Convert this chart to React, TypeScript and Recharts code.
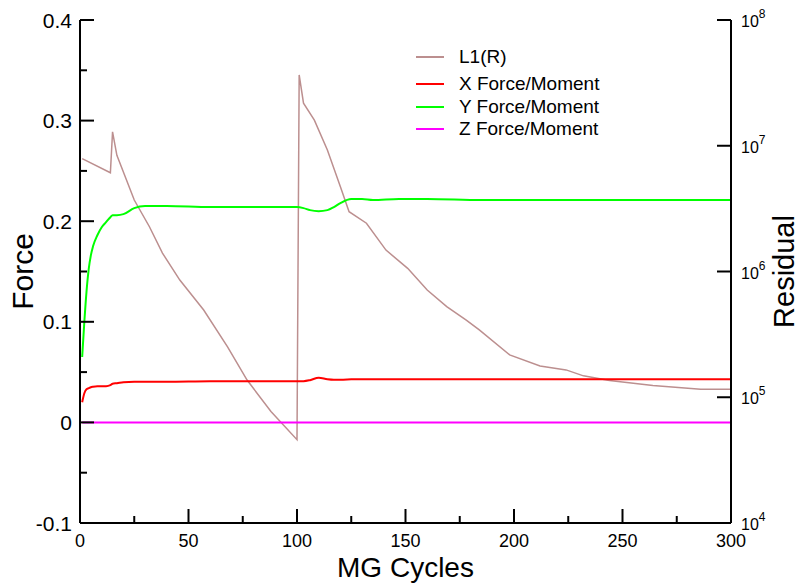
import { LineChart, Line, XAxis, YAxis, Legend } from 'recharts';

const FONT = '"Liberation Sans", Arial, sans-serif';

// L1(R) residual, right (log) axis
const residualCycles = [1, 14, 15, 17, 25, 32, 38, 46, 57, 68, 77, 88, 100, 101, 103, 108, 114, 120, 124, 132, 141, 151, 160, 169, 178, 184, 198, 212, 224, 232, 244, 264, 286, 300];
const residualValues = [7.9e6, 6.1e6, 1.29e7, 8.4e6, 3.7e6, 2.27e6, 1.4e6, 8.55e5, 4.94e5, 2.52e5, 1.37e5, 7.7e4, 4.6e4, 3.66e7, 2.18e7, 1.6e7, 9.25e6, 4.72e6, 2.99e6, 2.42e6, 1.48e6, 1.06e6, 7.13e5, 5.25e5, 4.11e5, 3.43e5, 2.17e5, 1.77e5, 1.65e5, 1.48e5, 1.36e5, 1.24e5, 1.16e5, 1.16e5];

// force / moment components, left axis
const forceCycles = [1, 2, 3, 4, 5, 6, 8, 10, 12, 14, 15, 17, 20, 25, 30, 40, 60, 80, 100, 103, 106, 110, 114, 117, 120, 125, 130, 135, 147, 160, 185, 220, 260, 300];
const xForce = [0.02, 0.029, 0.033, 0.034, 0.035, 0.0355, 0.036, 0.036, 0.036, 0.037, 0.0385, 0.039, 0.04, 0.0405, 0.0405, 0.0405, 0.041, 0.041, 0.041, 0.041, 0.042, 0.0445, 0.043, 0.0425, 0.0425, 0.0428, 0.043, 0.043, 0.043, 0.043, 0.043, 0.043, 0.043, 0.0428];
const yForce = [0.065, 0.1, 0.13, 0.152, 0.166, 0.175, 0.186, 0.194, 0.199, 0.204, 0.206, 0.206, 0.207, 0.213, 0.215, 0.215, 0.214, 0.214, 0.214, 0.213, 0.211, 0.21, 0.211, 0.214, 0.218, 0.222, 0.222, 0.221, 0.222, 0.222, 0.221, 0.221, 0.221, 0.221];
const zCycles = [1, 100, 200, 300];
const zForce = [0, 0, 0, 0];

const cycleTicks = [0, 25, 50, 75, 100, 125, 150, 175, 200, 225, 250, 275, 300];
const forceTicks = [-0.1, -0.05, 0, 0.05, 0.1, 0.15, 0.2, 0.25, 0.3, 0.35, 0.4];
const residualTicks = [1e4, 1e5, 1e6, 1e7, 1e8];

const toPoints = (cycles: number[], values: number[]) =>
  cycles.map((cycle, i) => ({ cycle, value: values[i] }));

const isMajorForce = (v: number) => Math.abs(v * 10 - Math.round(v * 10)) < 1e-6;
const formatForce = (v: number) => (v === 0 ? '0' : v.toFixed(1));

const LeftTick = (props: any) => {
  const { x, y, payload } = props;
  const major = isMajorForce(payload.value);
  return (
    <g>
      <line x1={x} y1={y} x2={x + (major ? 14 : 7)} y2={y} stroke="#000" strokeWidth={2} />
      {major && (
        <text x={x - 8} y={y} dy="0.36em" textAnchor="end" fontSize={21} fontFamily={FONT} fill="#000">
          {formatForce(payload.value)}
        </text>
      )}
    </g>
  );
};

const BottomTick = (props: any) => {
  const { x, y, payload } = props;
  const major = payload.value % 50 === 0;
  return (
    <g>
      <line x1={x} y1={y} x2={x} y2={y - (major ? 14 : 7)} stroke="#000" strokeWidth={2} />
      {major && (
        <text x={x} y={y + 24} textAnchor="middle" fontSize={18} fontFamily={FONT} fill="#000">
          {payload.value}
        </text>
      )}
    </g>
  );
};

const TopTick = (props: any) => {
  const { x, y, payload } = props;
  const major = payload.value % 50 === 0;
  return <line x1={x} y1={y} x2={x} y2={y + (major ? 14 : 7)} stroke="#000" strokeWidth={2} />;
};

const RightTick = (props: any) => {
  const { x, y, payload } = props;
  const exp = Math.round(Math.log10(payload.value));
  return (
    <g>
      <line x1={x} y1={y} x2={x - 14} y2={y} stroke="#000" strokeWidth={2} />
      <text x={x + 10} y={y + 7} fontSize={16} fontFamily={FONT} fill="#000">
        10
        <tspan dy={-9} fontSize={12}>{exp}</tspan>
      </text>
    </g>
  );
};

const renderLegend = ({ payload }: any) => (
  <div style={{ fontFamily: FONT, fontSize: 19, color: '#000' }}>
    {payload.map((entry: any, i: number) => (
      <div
        key={entry.value}
        style={{ display: 'flex', alignItems: 'center', height: 22.5, marginBottom: i === 0 ? 4.5 : 0 }}
      >
        <span style={{ width: 28, height: 0, borderTop: `2px solid ${entry.color}`, marginRight: 15 }} />
        <span>{entry.value}</span>
      </div>
    ))}
  </div>
);

export default function App() {
  return (
    <div style={{ position: 'absolute', left: 0, top: 0, background: '#fff' }}>
      <LineChart width={801} height={583} margin={{ top: 20, right: 0, bottom: 0, left: 0 }}>
        <XAxis
          xAxisId="bottom"
          dataKey="cycle"
          type="number"
          domain={[0, 300]}
          ticks={cycleTicks}
          interval={0}
          height={60}
          tickSize={0}
          tickMargin={0}
          tickLine={false}
          tick={<BottomTick />}
          axisLine={{ stroke: '#000', strokeWidth: 2 }}
          label={({ viewBox }: any) => (
            <text
              x={viewBox.x + viewBox.width / 2}
              y={viewBox.y + 54}
              textAnchor="middle"
              fontSize={28}
              fontFamily={FONT}
              fill="#000"
            >
              MG Cycles
            </text>
          )}
        />
        <XAxis
          xAxisId="top"
          orientation="top"
          dataKey="cycle"
          type="number"
          domain={[0, 300]}
          ticks={cycleTicks}
          interval={0}
          height={0}
          tickSize={0}
          tickMargin={0}
          tickLine={false}
          tick={<TopTick />}
          axisLine={{ stroke: '#000', strokeWidth: 2 }}
        />
        <YAxis
          yAxisId="force"
          type="number"
          domain={[-0.1, 0.4]}
          ticks={forceTicks}
          interval={0}
          width={80}
          tickSize={0}
          tickMargin={0}
          tickLine={false}
          tick={<LeftTick />}
          axisLine={{ stroke: '#000', strokeWidth: 2 }}
          label={({ viewBox }: any) => {
            const cx = viewBox.x + 33;
            const cy = viewBox.y + viewBox.height / 2;
            return (
              <text x={cx} y={cy} transform={`rotate(-90 ${cx} ${cy})`} textAnchor="middle" fontSize={30} fontFamily={FONT} fill="#000">
                Force
              </text>
            );
          }}
        />
        <YAxis
          yAxisId="residual"
          orientation="right"
          type="number"
          scale="log"
          domain={[1e4, 1e8]}
          ticks={residualTicks}
          interval={0}
          width={70}
          tickSize={0}
          tickMargin={0}
          tickLine={false}
          tick={<RightTick />}
          axisLine={{ stroke: '#000', strokeWidth: 2 }}
          label={({ viewBox }: any) => {
            const cx = viewBox.x + 63;
            const cy = viewBox.y + viewBox.height / 2;
            return (
              <text x={cx} y={cy} transform={`rotate(-90 ${cx} ${cy})`} textAnchor="middle" fontSize={29} fontFamily={FONT} fill="#000">
                Residual
              </text>
            );
          }}
        />
        <Legend
          layout="vertical"
          align="center"
          verticalAlign="middle"
          content={renderLegend}
          wrapperStyle={{ left: 416, top: 46, width: 'auto' }}
        />
        <Line
          name="L1(R)"
          data={toPoints(residualCycles, residualValues)}
          dataKey="value"
          xAxisId="bottom"
          yAxisId="residual"
          type="linear"
          stroke="#bc8f8f"
          strokeWidth={1.5}
          dot={false}
          activeDot={false}
          isAnimationActive={false}
        />
        <Line
          name="X Force/Moment"
          data={toPoints(forceCycles, xForce)}
          dataKey="value"
          xAxisId="bottom"
          yAxisId="force"
          type="monotone"
          stroke="#ff0000"
          strokeWidth={2}
          dot={false}
          activeDot={false}
          isAnimationActive={false}
        />
        <Line
          name="Y Force/Moment"
          data={toPoints(forceCycles, yForce)}
          dataKey="value"
          xAxisId="bottom"
          yAxisId="force"
          type="monotone"
          stroke="#00ff00"
          strokeWidth={2}
          dot={false}
          activeDot={false}
          isAnimationActive={false}
        />
        <Line
          name="Z Force/Moment"
          data={toPoints(zCycles, zForce)}
          dataKey="value"
          xAxisId="bottom"
          yAxisId="force"
          type="linear"
          stroke="#ff00ff"
          strokeWidth={2}
          dot={false}
          activeDot={false}
          isAnimationActive={false}
        />
      </LineChart>
    </div>
  );
}
